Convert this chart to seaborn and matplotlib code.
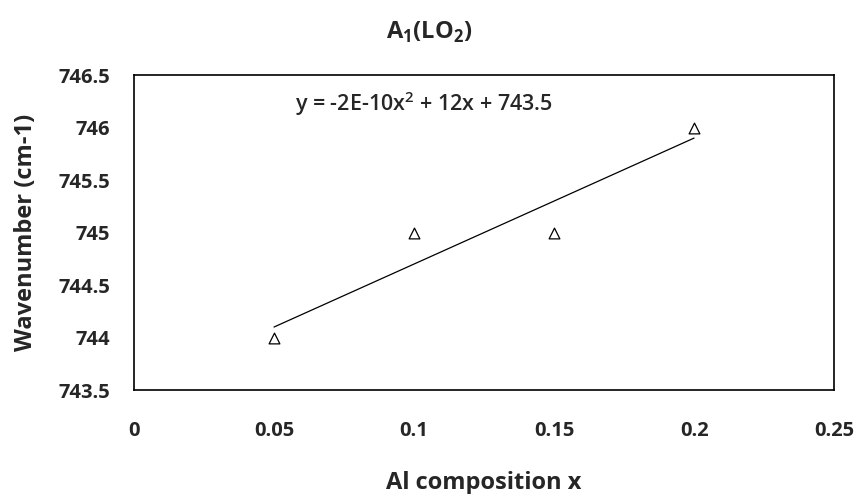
import matplotlib
matplotlib.use("Agg")
import matplotlib.pyplot as plt
import seaborn as sns
import pandas as pd

# data
al_x = [0.05, 0.10, 0.15, 0.20]
wavenumber = [744, 745, 745, 746]
x_ticks = [0, 0.05, 0.1, 0.15, 0.2, 0.25]
x_tick_labels = ["0", "0.05", "0.1", "0.15", "0.2", "0.25"]
y_ticks = [743.5, 744, 744.5, 745, 745.5, 746, 746.5]
y_tick_labels = ["743.5", "744", "744.5", "745", "745.5", "746", "746.5"]

df = pd.DataFrame({"x": al_x, "y": wavenumber})

sns.set_style("white")
plt.rcParams["font.family"] = ["Open Sans", "DejaVu Sans"]

fig = plt.figure(figsize=(8.59, 4.94), dpi=100)
ax = fig.add_axes([0.156, 0.2105, 0.815, 0.6375])

# linear trendline (least squares fit, like Excel)
sns.regplot(data=df, x="x", y="y", scatter=False, ci=None, truncate=True,
            line_kws={"color": "black", "linewidth": 0.9}, ax=ax)
sns.scatterplot(data=df, x="x", y="y", marker="^", s=60, facecolor="white",
                edgecolor="black", linewidth=0.9, ax=ax, zorder=3)

ax.set_xlim(0, 0.25)
ax.set_ylim(743.5, 746.5)
ax.set_xticks(x_ticks)
ax.set_xticklabels(x_tick_labels)
ax.set_yticks(y_ticks)
ax.set_yticklabels(y_tick_labels)
ax.tick_params(axis="both", length=0, labelsize=14.5)
ax.tick_params(axis="x", pad=22)
ax.tick_params(axis="y", pad=17)
for lab in ax.get_xticklabels() + ax.get_yticklabels():
    lab.set_fontweight("bold")

for sp in ax.spines.values():
    sp.set_visible(True)
    sp.set_color("black")
    sp.set_linewidth(1.2)

ax.set_xlabel("Al composition x", fontsize=17, fontweight="bold", labelpad=22)
ax.set_ylabel("Wavenumber (cm-1)", fontsize=17, fontweight="bold", labelpad=15)
fig.suptitle(r"A$_\mathregular{1}$(LO$_\mathregular{2}$)", fontsize=17,
             fontweight="bold", x=0.5, y=1 - 32 / 494, va="center")

ax.text(0.0575, 746.23, r"y = -2E-10x$^\mathregular{2}$ + 12x + 743.5",
        fontsize=15.5, fontweight="semibold", ha="left", va="center")

fig.savefig("out.png", dpi=100)
